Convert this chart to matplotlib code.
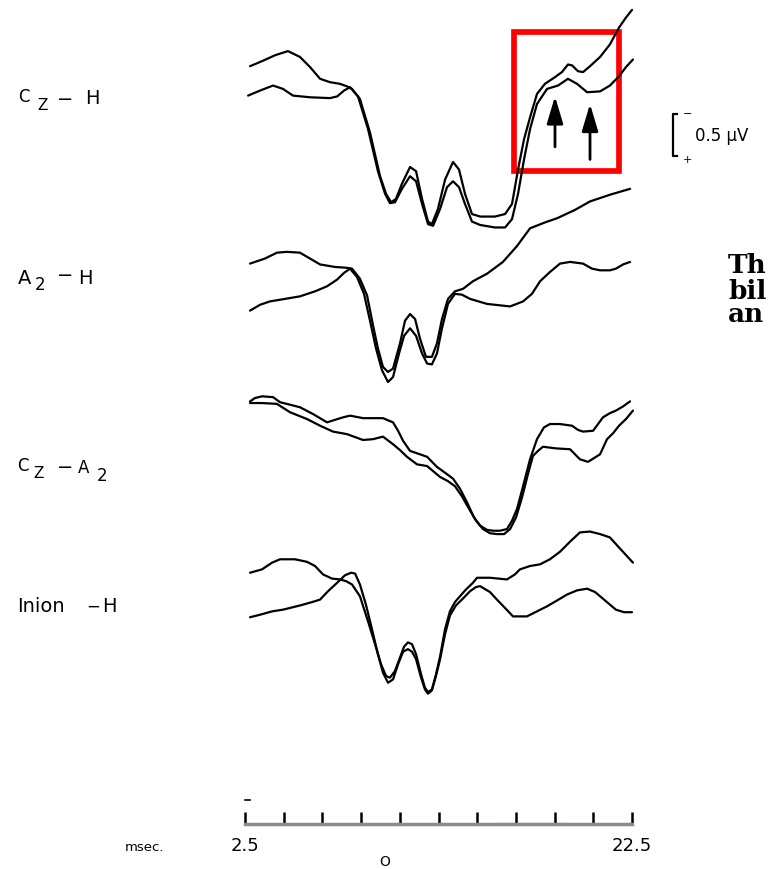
import numpy as np
import matplotlib
matplotlib.use("Agg")
import matplotlib.pyplot as plt
from matplotlib.patches import Rectangle

# Evoked-response traces: latency in ms, amplitude in µV (negative plotted upward).
# Two superimposed runs per derivation.

# Cz - H
t_czh_a = [2.76, 3.38, 4.05, 4.72, 5.34, 5.86, 6.38, 6.89, 7.41, 7.77, 8.03, 8.44, 8.96, 9.48,
           9.79, 10.05, 10.30, 10.61, 11.03, 11.34, 11.65, 11.96, 12.16, 12.47, 12.84, 13.25,
           13.56, 13.87, 14.23, 14.65, 15.42, 15.94, 16.30, 16.61, 16.92, 17.23, 17.59, 18.00,
           18.52, 18.88, 19.19, 19.40, 19.71, 19.97, 20.33, 20.85, 21.36, 21.83, 22.19, 22.50]
v_czh_a = [-0.25, -0.31, -0.38, -0.43, -0.36, -0.24, -0.10, -0.06, -0.04, -0.01, 0.02, 0.14,
           0.54, 1.06, 1.27, 1.37, 1.33, 1.15, 0.95, 1.00, 1.33, 1.60, 1.63, 1.45, 1.10, 0.89,
           0.98, 1.27, 1.51, 1.54, 1.54, 1.51, 1.39, 0.98, 0.62, 0.36, 0.08, -0.04, -0.12,
           -0.18, -0.27, -0.26, -0.19, -0.18, -0.25, -0.36, -0.51, -0.71, -0.83, -0.92]
t_czh_b = [2.66, 3.28, 3.95, 4.46, 4.98, 5.86, 6.89, 7.26, 7.62, 7.93, 8.34, 8.86, 9.37, 9.74,
           9.99, 10.25, 10.61, 11.03, 11.34, 11.65, 11.96, 12.22, 12.58, 12.94, 13.25, 13.56,
           13.87, 14.23, 14.65, 15.42, 15.94, 16.30, 16.61, 16.92, 17.23, 17.59, 18.11, 18.68,
           19.19, 19.66, 20.18, 20.85, 21.36, 21.83, 22.19, 22.55]
v_czh_b = [0.10, 0.04, -0.02, 0.02, 0.10, 0.12, 0.13, 0.11, 0.04, 0.00, 0.11, 0.50, 1.00, 1.27,
           1.38, 1.37, 1.21, 1.06, 1.12, 1.39, 1.63, 1.65, 1.45, 1.19, 1.12, 1.19, 1.39, 1.60,
           1.64, 1.67, 1.67, 1.57, 1.27, 0.86, 0.50, 0.20, 0.02, -0.02, -0.10, -0.04, 0.06,
           0.05, -0.02, -0.13, -0.24, -0.33]

# A2 - H
t_a2h_a = [2.76, 3.53, 4.15, 4.67, 5.34, 5.86, 6.38, 7.15, 7.77, 8.03, 8.44, 8.81, 9.12, 9.37,
           9.63, 9.89, 10.15, 10.51, 10.77, 11.03, 11.29, 11.54, 11.85, 12.16, 12.42, 12.68,
           12.99, 13.35, 13.77, 14.28, 15.01, 15.83, 16.56, 17.23, 18.00, 18.63, 19.56, 20.33,
           21.36, 22.40]
v_a2h_a = [-0.06, -0.12, -0.19, -0.20, -0.19, -0.12, -0.05, -0.02, -0.01, 0.00, 0.12, 0.32,
           0.68, 0.95, 1.17, 1.23, 1.19, 0.89, 0.62, 0.54, 0.60, 0.83, 1.05, 1.05, 0.89, 0.60,
           0.36, 0.27, 0.24, 0.15, 0.06, -0.08, -0.27, -0.48, -0.55, -0.60, -0.70, -0.80,
           -0.88, -0.95]
t_a2h_b = [2.76, 3.28, 3.79, 4.57, 5.34, 6.12, 6.74, 7.26, 7.62, 7.93, 8.29, 8.65, 8.96, 9.27,
           9.58, 9.89, 10.15, 10.46, 10.72, 11.03, 11.34, 11.65, 11.91, 12.16, 12.42, 12.68,
           12.99, 13.35, 13.71, 14.13, 15.01, 16.20, 16.87, 17.33, 17.75, 18.26, 18.78, 19.30,
           19.97, 20.43, 20.85, 21.36, 21.67, 22.04, 22.40]
v_a2h_b = [0.50, 0.43, 0.39, 0.36, 0.33, 0.27, 0.21, 0.13, 0.05, 0.00, 0.10, 0.30, 0.62, 0.95,
           1.21, 1.35, 1.29, 1.01, 0.80, 0.71, 0.80, 1.01, 1.13, 1.14, 1.01, 0.71, 0.42, 0.30,
           0.31, 0.36, 0.42, 0.45, 0.39, 0.30, 0.15, 0.04, -0.06, -0.08, -0.06, 0.00, 0.02,
           0.02, 0.00, -0.05, -0.08]

# Cz - A2
t_cza2_a = [2.76, 3.02, 3.38, 3.95, 4.31, 4.83, 5.34, 6.01, 6.74, 7.15, 7.57, 7.93, 8.60, 9.63,
            10.15, 10.41, 10.67, 11.03, 11.54, 11.91, 12.42, 12.84, 13.25, 13.61, 13.97, 14.33,
            14.65, 15.01, 15.32, 15.68, 16.04, 16.30, 16.56, 16.87, 17.23, 17.59, 17.95, 18.26,
            18.78, 19.40, 19.71, 19.97, 20.49, 21.00, 21.36, 21.67, 22.04, 22.40]
v_cza2_a = [-0.21, -0.25, -0.27, -0.26, -0.20, -0.17, -0.14, -0.06, 0.04, 0.01, -0.02, -0.04,
            -0.01, -0.01, 0.04, 0.14, 0.26, 0.38, 0.42, 0.45, 0.57, 0.64, 0.71, 0.83, 0.99,
            1.17, 1.27, 1.32, 1.33, 1.33, 1.31, 1.21, 1.07, 0.80, 0.48, 0.24, 0.10, 0.06, 0.06,
            0.08, 0.13, 0.15, 0.14, -0.02, -0.07, -0.10, -0.15, -0.21]
t_cza2_b = [2.76, 3.38, 4.15, 4.83, 5.70, 6.38, 7.05, 7.77, 8.60, 9.12, 9.63, 10.15, 10.51,
            10.87, 11.39, 11.91, 12.58, 12.99, 13.35, 13.71, 14.08, 14.44, 14.80, 15.16, 15.52,
            15.89, 16.20, 16.51, 16.82, 17.13, 17.38, 17.64, 17.90, 18.57, 19.30, 19.81, 20.23,
            20.85, 21.21, 21.52, 21.83, 22.19, 22.55]
v_cza2_b = [-0.19, -0.19, -0.18, -0.08, 0.00, 0.08, 0.15, 0.18, 0.25, 0.24, 0.21, 0.30, 0.37,
            0.45, 0.54, 0.56, 0.69, 0.74, 0.80, 0.92, 1.07, 1.21, 1.31, 1.36, 1.37, 1.37, 1.31,
            1.17, 0.93, 0.65, 0.44, 0.38, 0.33, 0.35, 0.36, 0.48, 0.51, 0.42, 0.24, 0.17, 0.08,
            0.00, -0.10]

# Inion - H
t_inh_a = [2.76, 3.38, 3.90, 4.31, 5.08, 5.70, 6.12, 6.53, 7.00, 7.41, 7.72, 8.03, 8.44, 8.86,
           9.22, 9.53, 9.79, 9.99, 10.25, 10.51, 10.72, 10.92, 11.13, 11.34, 11.60, 11.80,
           11.96, 12.16, 12.37, 12.58, 12.84, 13.09, 13.35, 13.61, 13.92, 14.28, 14.49, 15.16,
           16.04, 16.45, 16.71, 17.23, 17.75, 18.26, 18.78, 19.30, 19.81, 20.33, 20.85, 21.36,
           21.83, 22.19, 22.55]
v_inh_a = [-0.02, -0.06, -0.14, -0.18, -0.18, -0.15, -0.10, 0.00, 0.05, 0.06, 0.08, 0.12, 0.26,
           0.56, 0.83, 1.07, 1.21, 1.23, 1.15, 0.99, 0.86, 0.81, 0.83, 0.95, 1.19, 1.35, 1.40,
           1.37, 1.19, 0.98, 0.65, 0.44, 0.33, 0.26, 0.18, 0.10, 0.04, 0.04, 0.06, 0.00, -0.06,
           -0.10, -0.12, -0.18, -0.27, -0.39, -0.50, -0.51, -0.48, -0.44, -0.32, -0.23, -0.14]
t_inh_b = [2.76, 3.28, 3.90, 4.46, 5.34, 5.96, 6.38, 6.79, 7.26, 7.67, 7.98, 8.19, 8.44, 8.75,
           9.06, 9.37, 9.63, 9.89, 10.15, 10.41, 10.67, 10.92, 11.13, 11.34, 11.60, 11.80,
           11.96, 12.16, 12.37, 12.58, 12.84, 13.09, 13.40, 13.71, 14.13, 14.44, 14.65, 15.16,
           15.52, 15.94, 16.35, 17.07, 17.59, 18.11, 18.63, 19.14, 19.66, 20.18, 20.59, 20.85,
           21.36, 21.67, 22.09, 22.50]
v_inh_b = [0.51, 0.48, 0.44, 0.42, 0.37, 0.33, 0.30, 0.20, 0.10, 0.01, -0.02, -0.01, 0.12, 0.36,
           0.65, 0.95, 1.17, 1.29, 1.25, 1.07, 0.92, 0.89, 0.92, 1.01, 1.23, 1.37, 1.42, 1.38,
           1.21, 1.01, 0.71, 0.49, 0.37, 0.30, 0.20, 0.15, 0.14, 0.21, 0.30, 0.40, 0.50, 0.50,
           0.44, 0.38, 0.31, 0.24, 0.19, 0.17, 0.21, 0.26, 0.36, 0.42, 0.45, 0.45]

traces = [(t_czh_a, v_czh_a, t_czh_b, v_czh_b),
          (t_a2h_a, v_a2h_a, t_a2h_b, v_a2h_b),
          (t_cza2_a, v_cza2_a, t_cza2_b, v_cza2_b),
          (t_inh_a, v_inh_a, t_inh_b, v_inh_b)]

time_ticks = [2.5, 4.5, 6.5, 8.5, 10.5, 12.5, 14.5, 16.5, 18.5, 20.5, 22.5]
time_labels = ["2.5", "", "", "", "", "", "", "", "", "", "22.5"]
scale_uv = 0.5
arrow_latency = [18.52, 20.33]

# ---------------------------------------------------------------- layout
W, H = 769, 870
UV_PX = 84.0                         # pixels per µV
offsets = [1.05, 3.21, 5.00, 6.85]   # vertical placement of each derivation (µV units)

fig = plt.figure(figsize=(W / 100, H / 100), dpi=100)
fig.patch.set_facecolor("white")

ax = fig.add_axes([245 / W, 0, 387 / W, 1])
ax.set_xlim(2.5, 22.5)
ax.set_ylim(H / UV_PX, 0)            # negative up
ax.axis("off")

for off, (ta, va, tb, vb) in zip(offsets, traces):
    for t, v in ((ta, va), (tb, vb)):
        ax.plot(t, np.asarray(v) + off, color="black", lw=1.6,
                solid_joinstyle="round", solid_capstyle="round", clip_on=False)

# arrows marking the late peaks
arrow_tip = [0.11, 0.20]
arrow_tail = [0.71, 0.86]
for x, tip, tail in zip(arrow_latency, arrow_tip, arrow_tail):
    ax.annotate("", xy=(x, offsets[0] + tip), xytext=(x, offsets[0] + tail),
                arrowprops=dict(arrowstyle="-|>,head_length=1.1,head_width=0.33",
                                lw=2.0, color="black", shrinkA=0, shrinkB=0,
                                mutation_scale=15))

# highlight box
ax.add_patch(Rectangle((16.38, 0.39), 5.45, 1.655, fill=False, ec="#ff0000",
                       lw=4.1, joinstyle="miter", clip_on=False))

# amplitude calibration bar
bx, by = 24.62, 1.37
ax.plot([bx + 0.22, bx, bx, bx + 0.22], [by, by, by + scale_uv, by + scale_uv],
        color="black", lw=1.6, clip_on=False)
ax.text(bx + 0.75, by - 0.015, "−", fontsize=8, ha="center", va="center")
ax.text(bx + 0.75, by + scale_uv + 0.03, "+", fontsize=8, ha="center", va="center")
ax.text(bx + 1.12, by + scale_uv / 2, f"{scale_uv} µV", fontsize=12,
        ha="left", va="center", family="DejaVu Sans")

# derivation labels
def put(s, x, y, size, **kw):
    fig.text(x / W, 1 - y / H, s, fontsize=size, ha="left", va="center",
             family="DejaVu Sans", **kw)

put("C", 18, 97, 12); put("Z", 37, 106, 11); put("−", 57, 99, 14); put("H", 85, 99, 14)
put("A", 18, 278, 14); put("2", 35, 285, 12); put("−", 57, 276, 14); put("H", 78, 278, 14)
put("C", 17, 466, 12); put("Z", 33, 474, 11); put("−", 57, 468, 14); put("A", 78, 468, 12)
put("2", 97, 476, 12)
put("Inion", 17, 607, 14); put("−", 86, 607, 12); put("H", 102, 607, 14)

# time scale
sax = fig.add_axes([245 / W, 45 / H, 387 / W, 15 / H])
sax.set_xlim(2.5, 22.5)
sax.set_ylim(0, 1)
sax.patch.set_alpha(0)
for side in ("top", "left", "right"):
    sax.spines[side].set_visible(False)
sax.spines["bottom"].set_color("#8c8c8c")
sax.spines["bottom"].set_linewidth(2.5)
sax.set_yticks([])
sax.set_xticks(time_ticks)
sax.set_xticklabels(time_labels)
sax.tick_params(axis="x", direction="in", length=8.6, width=1.8, color="black",
                pad=9, labelsize=13)
sax.plot([15.7, 19.0], [0.02, 0.02], color="black", lw=2.2, clip_on=False)
sax.plot([2.5, 2.75], [1.6, 1.6], color="black", lw=1.2, clip_on=False)

fig.text(145 / W, 1 - 848 / H, "msec.", fontsize=9.5, ha="center", va="center")
fig.text(385 / W, 1 - 862 / H, "O", fontsize=10, ha="center", va="center")

# running text fragments at the right margin
for txt, y in (("Th", 273), ("bil", 299), ("an", 322)):
    fig.text(728 / W, 1 - y / H, txt, fontsize=19, fontweight="bold",
             family="DejaVu Serif", ha="left", va="baseline")

fig.savefig("out.png", dpi=100)
